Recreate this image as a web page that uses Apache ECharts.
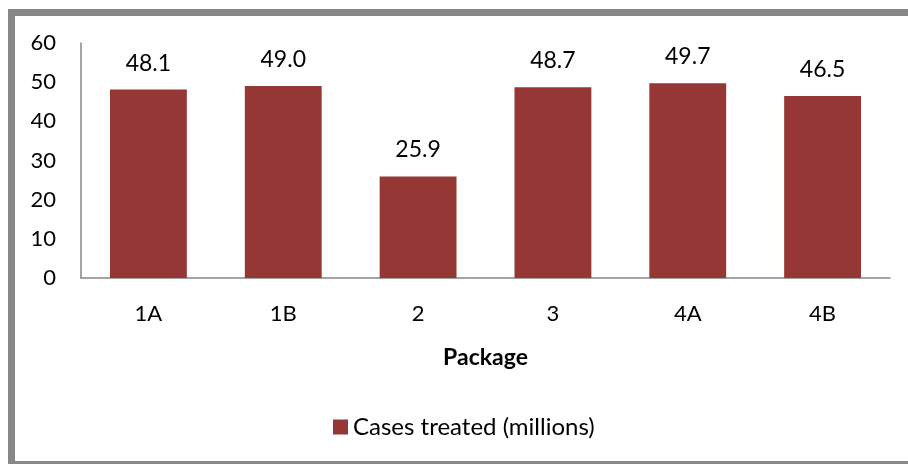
<!DOCTYPE html>
<html>
<head>
<meta charset="utf-8">
<script src="https://cdn.jsdelivr.net/npm/echarts@6/dist/echarts.min.js"></script>
<style>
  html, body { margin: 0; padding: 0; background: #fff; }
  #chart { width: 908px; height: 464px; }
</style>
</head>
<body>
<div id="chart"></div>
<script>
const packages = ['1A', '1B', '2', '3', '4A', '4B']
const casesTreated = [48.1, 49.0, 25.9, 48.7, 49.7, 46.5]
const seriesName = 'Cases treated (millions)'

const font = 'Lato, "Open Sans", sans-serif'
const myChart = echarts.init(document.getElementById('chart'))

const option = {
  animation: false,
  textStyle: { fontFamily: font },
  graphic: [{
    type: 'rect',
    shape: { x: 11.5, y: 12.5, width: 1000, height: 452 },
    style: { fill: 'none', stroke: '#878787', lineWidth: 7 },
    silent: true
  }],
  grid: { left: 81, right: 18, top: 43, bottom: 186 },
  legend: {
    data: [seriesName],
    left: 328,
    top: 410,
    itemWidth: 15,
    itemHeight: 15,
    itemGap: 7,
    icon: 'rect',
    textStyle: { fontSize: 24, color: '#000', fontFamily: font }
  },
  xAxis: {
    type: 'category',
    data: packages,
    name: 'Package',
    nameLocation: 'middle',
    nameGap: 68,
    nameTextStyle: { fontSize: 23, fontWeight: 'bold', color: '#000', fontFamily: font },
    axisLine: { lineStyle: { color: '#868686', width: 1.5 } },
    axisTick: { show: false },
    axisLabel: { fontSize: 22, color: '#000', margin: 25, fontFamily: font }
  },
  yAxis: {
    type: 'value',
    min: 0,
    max: 60,
    interval: 10,
    axisLine: { show: true, lineStyle: { color: '#868686', width: 1.5 } },
    axisTick: { show: false },
    splitLine: { show: false },
    axisLabel: { fontSize: 22, color: '#000', margin: 25, fontFamily: font }
  },
  series: [{
    name: seriesName,
    type: 'bar',
    data: casesTreated,
    barCategoryGap: '43%',
    itemStyle: { color: '#953735' },
    label: {
      show: true,
      position: 'top',
      distance: 15,
      fontSize: 23,
      color: '#000',
      fontFamily: font,
      formatter: (p) => p.value.toFixed(1)
    }
  }]
}

myChart.setOption(option)
</script>
</body>
</html>
